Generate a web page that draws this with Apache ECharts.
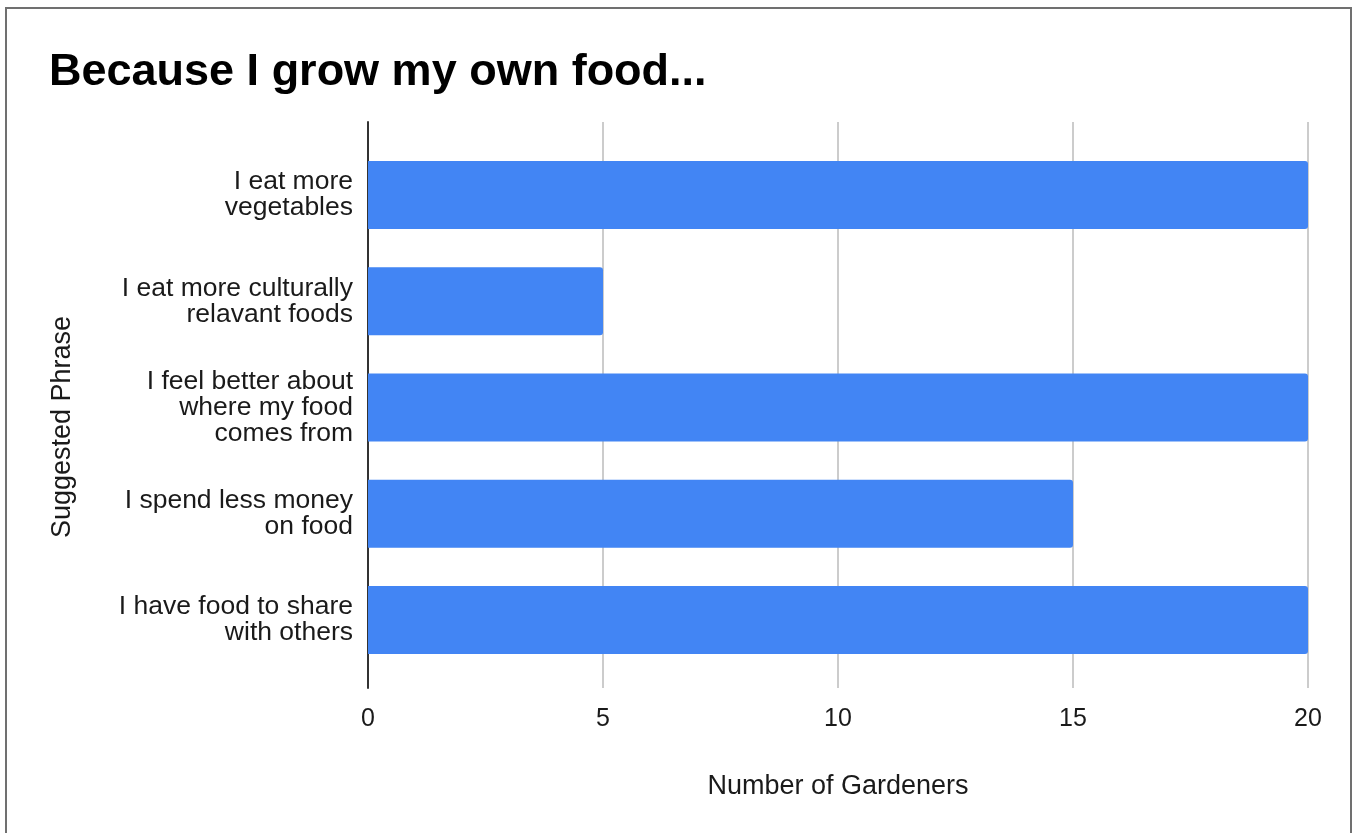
<!DOCTYPE html>
<html>
<head>
<meta charset="utf-8">
<script src="https://cdn.jsdelivr.net/npm/echarts@6/dist/echarts.min.js"></script>
<style>
  html, body { margin: 0; padding: 0; background: #fff; }
  #chart { position: absolute; left: 0; top: 0; width: 1353px; height: 833px; }
  #frame { position: absolute; left: 5px; top: 7px; width: 1343px; height: 840px;
           border: 2px solid #707070; pointer-events: none; }
</style>
</head>
<body>
<div id="chart"></div>
<div id="frame"></div>
<script>
// Survey responses: how many gardeners chose each phrase
const phrases = [
  'I eat more\nvegetables',
  'I eat more culturally\nrelavant foods',
  'I feel better about\nwhere my food\ncomes from',
  'I spend less money\non food',
  'I have food to share\nwith others'
];
const gardeners = [20, 5, 20, 15, 20];
const xTicks = [0, 5, 10, 15, 20];

const chart = echarts.init(document.getElementById('chart'));
const font = 'Liberation Sans, Arial, sans-serif';
const xMin = xTicks[0];
const xMax = xTicks[xTicks.length - 1];

chart.setOption({
  animation: false,
  title: {
    text: 'Because I grow my own food...',
    left: 44,
    top: 45,
    textStyle: { fontFamily: font, fontWeight: 'bold', fontSize: 45, color: '#000' }
  },
  grid: [
    // frame grid: gridlines, tick labels, vertical axis line
    { left: 368, right: 45, top: 122, bottom: 145 },
    // inner grid holding the bars and their category labels
    { left: 368, right: 45, top: 142, bottom: 160 }
  ],
  xAxis: [{
    type: 'value',
    gridIndex: 0,
    min: xMin,
    max: xMax,
    interval: 5,
    name: 'Number of Gardeners',
    nameLocation: 'middle',
    nameGap: 85,
    nameTextStyle: { fontFamily: font, fontSize: 27, color: '#1a1a1a' },
    axisLine: { show: false },
    axisTick: { show: false },
    axisLabel: { fontFamily: font, fontSize: 25, color: '#1a1a1a', margin: 19 },
    splitLine: { show: true, lineStyle: { color: '#cccccc', width: 2 } }
  }, {
    type: 'value',
    gridIndex: 1,
    min: xMin,
    max: xMax,
    show: false
  }],
  yAxis: [{
    type: 'value',
    gridIndex: 0,
    min: 0,
    max: 1,
    name: 'Suggested Phrase',
    nameLocation: 'middle',
    nameGap: 292,
    nameTextStyle: { fontFamily: font, fontSize: 27, color: '#1a1a1a', padding: [0, 44, 0, 0] },
    axisLine: { show: true, onZero: false, lineStyle: { color: '#333', width: 2 } },
    axisTick: { show: false },
    axisLabel: { show: false },
    splitLine: { show: false }
  }, {
    type: 'category',
    gridIndex: 1,
    data: phrases,
    inverse: true,
    axisLine: { show: false },
    axisTick: { show: false },
    axisLabel: { fontFamily: font, fontSize: 26.5, color: '#1a1a1a', margin: 15, lineHeight: 26, align: 'right' },
    splitLine: { show: false }
  }],
  series: [{
    type: 'bar',
    xAxisIndex: 1,
    yAxisIndex: 1,
    data: gardeners,
    barWidth: 68,
    itemStyle: { color: '#4285f4', borderRadius: [0, 3, 3, 0] },
    z: 3
  }]
});
</script>
</body>
</html>
